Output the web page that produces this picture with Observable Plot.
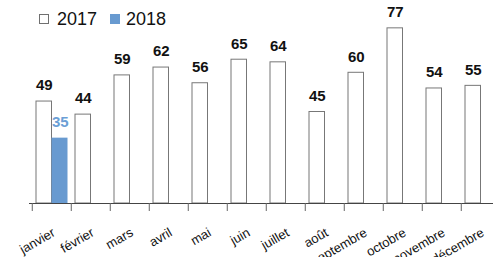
<!DOCTYPE html>
<html><head><meta charset="utf-8">
<script src="https://cdn.jsdelivr.net/npm/d3@7"></script>
<script src="https://cdn.jsdelivr.net/npm/@observablehq/plot@0.6"></script>
<style>
body{margin:0;background:#fff;}
#wrap{position:relative;width:493px;height:257px;overflow:hidden;}
#wrap svg{position:absolute;left:0;top:0;}
.legend{position:absolute;top:10px;left:39px;z-index:2;font:18px "Liberation Sans",Arial,sans-serif;color:#111;display:flex;align-items:center;line-height:18px;}
.sw{display:inline-block;width:10px;height:10px;box-sizing:border-box;}
</style></head><body>
<div id="wrap"><div class="legend" id="legend"></div></div>
<script>
const months = ["janvier","février","mars","avril","mai","juin","juillet","août","septembre","octobre","novembre","décembre"];
const values2017 = [49,44,59,62,56,65,64,45,60,77,54,55];
const values2018 = [35];
const seriesNames = ["2017","2018"];
const seriesFill = ["#ffffff","#689ad0"];
const labelColors = ["#111111","#6c9fd6"];

const d2017 = months.map((m,i)=>({month:m, value:values2017[i]}));
const d2018 = values2018.map((v,i)=>({month:months[i], value:v}));

const x0 = 29, bw = 39.45;
const numFont = '"Liberation Sans Narrow","Arial Narrow","Liberation Sans",Arial,sans-serif';

const chart = Plot.plot({
  width: 493, height: 257,
  marginTop: 20, marginBottom: 54, marginLeft: 29, marginRight: 0,
  style: {fontFamily: '"Liberation Sans",Arial,sans-serif', background: "white"},
  x: {domain: months, range: [x0, x0 + bw*months.length], padding: 0, axis: null, label: null},
  y: {domain: [10, 80], clamp: true, axis: null, label: null},
  marks: [
    Plot.barY(d2017, {x: "month", y: "value", fill: seriesFill[0], stroke: "#777", strokeWidth: 1, insetLeft: 4, insetRight: 19.5}),
    Plot.barY(d2018, {x: "month", y: "value", fill: seriesFill[1], insetLeft: 19.5, insetRight: 3.5}),
    Plot.ruleY([10], {stroke: "#444", strokeWidth: 1}),
    Plot.axisX({ticks: months, tickSize: 8, tickFormat: () => "", dx: -bw/2, stroke: "#666", label: null}),
    Plot.text(months, {x: d => d, frameAnchor: "bottom", text: d => d, rotate: -30, textAnchor: "end", lineAnchor: "middle", dx: 2, dy: 28, fontSize: 13, fill: "#111"}),
    Plot.text(d2017, {x: "month", y: "value", text: d => String(d.value), dx: -7.7, dy: -16, fontSize: 15, fontWeight: "bold", fontFamily: numFont, fill: labelColors[0]}),
    Plot.text(d2018, {x: "month", y: "value", text: d => String(d.value), dx: 8.3, dy: -16, fontSize: 15, fontWeight: "bold", fontFamily: numFont, fill: labelColors[1]})
  ]
});
document.getElementById("wrap").appendChild(chart);

const leg = document.getElementById("legend");
seriesNames.forEach((n,i)=>{
  const sw = document.createElement("span");
  sw.className = "sw";
  sw.style.background = seriesFill[i];
  sw.style.border = i === 0 ? "1px solid #707070" : "none";
  sw.style.marginRight = i === 0 ? "8px" : "6px";
  const t = document.createElement("span");
  t.textContent = n;
  t.style.marginRight = "13px";
  leg.appendChild(sw); leg.appendChild(t);
});
</script>
</body></html>
